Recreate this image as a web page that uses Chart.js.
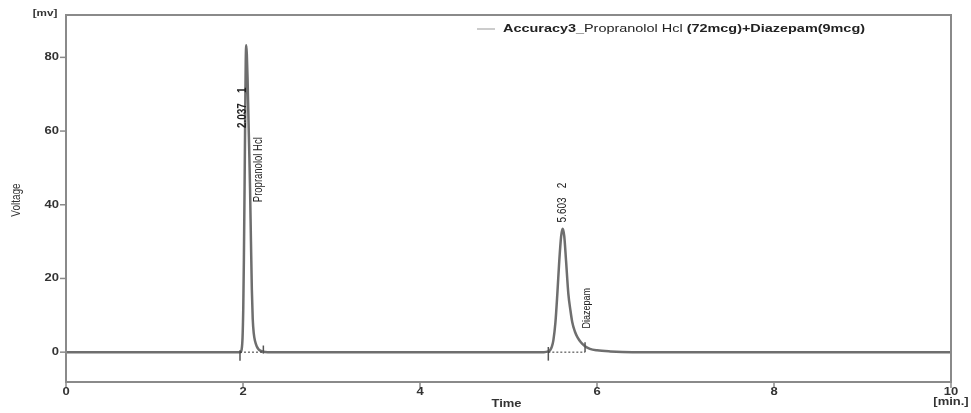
<!DOCTYPE html>
<html>
<head>
<meta charset="utf-8">
<script src="https://cdn.jsdelivr.net/npm/chart.js@4.4.1/dist/chart.umd.min.js"></script>
<style>
html,body{margin:0;padding:0;background:#fff;}
#wrap{width:971px;height:413px;position:relative;}
</style>
</head>
<body>
<div id="wrap"><canvas id="c"></canvas></div>
<script>
// ---- data ----
const timeMin = [0, 1.90, 1.970, 1.985, 1.995, 2.003, 2.010, 2.018, 2.025, 2.031, 2.037, 2.043, 2.052, 2.062, 2.072, 2.080, 2.090, 2.100, 2.110, 2.122, 2.136, 2.155, 2.175, 2.195, 2.23, 2.28,
  5.40, 5.45, 5.47, 5.49, 5.507, 5.53, 5.552, 5.574, 5.595, 5.612, 5.63, 5.650, 5.676, 5.70, 5.72, 5.75, 5.78, 5.82, 5.864, 5.92, 6.0, 6.15, 6.4, 10];
const voltageMv = [0, 0, 0, 0.8, 4, 12, 25, 45, 65, 79, 83.3, 81, 74, 63, 53, 44, 30, 17, 9, 5, 3, 1.6, 0.8, 0.4, 0.1, 0,
  0, 0.2, 0.5, 1.5, 3.2, 8, 15.9, 24.9, 31.5, 33.5, 31.5, 24.9, 15.9, 11.3, 8.2, 5.6, 4.0, 2.6, 1.6, 0.9, 0.5, 0.2, 0, 0];
// peak start / end markers [time, low, high]
const peakMarks = [[1.966, -2.3, 0.5], [2.23, -0.4, 1.8], [5.45, -2.3, 1.4], [5.865, 0, 2.7]];
// dotted integration baselines [start, end]
const baselines = [[1.966, 2.23], [5.45, 5.865]];
const xTicks = [0, 2, 4, 6, 8, 10];
const yTicks = [0, 20, 40, 60, 80];
const peakTexts = ['2.037', '1', 'Propranolol Hcl', '5.603', '2', 'Diazepam'];
const legendParts = ['Accuracy3_', 'Propranolol Hcl', ' (72mcg)+Diazepam(9mcg)'];

// ---- label placement (time, voltage anchor, px offset, font) ----
const peakTextLayout = [
  {t: 2.037, v: 60.8, dx: -4, font: 'bold 10px "Liberation Sans"'},
  {t: 2.037, v: 70.3, dx: -4, font: 'bold 10px "Liberation Sans"'},
  {t: 2.175, v: 40.7, dx: 0, font: '9.5px "Liberation Sans"'},
  {t: 5.61, v: 35.2, dx: 0, font: '10px "Liberation Sans"'},
  {t: 5.61, v: 44.5, dx: 0, font: '10px "Liberation Sans"'},
  {t: 5.887, v: 6.4, dx: 0, font: '9px "Liberation Sans"'}
];

const SX = 1.3;
function txt(ctx, s, x, y, font, align, base, rot, color) {
  ctx.save();
  ctx.translate(x, y);
  ctx.scale(SX, 1);
  if (rot) ctx.rotate(-Math.PI / 2);
  ctx.font = font; ctx.textAlign = align; ctx.textBaseline = base;
  ctx.fillStyle = color || '#333';
  ctx.fillText(s, 0, 0);
  ctx.restore();
}

const mainData = timeMin.map((t, i) => ({x: t, y: voltageMv[i]}));
const datasets = [{
  data: mainData, borderColor: '#6e6e6e', borderWidth: 2.5, pointRadius: 0,
  cubicInterpolationMode: 'monotone', fill: false, order: 2
}];
baselines.forEach(b => datasets.push({
  data: [{x: b[0], y: 0}, {x: b[1], y: 0}], borderColor: '#333', borderWidth: 1,
  borderDash: [2, 2], pointRadius: 0, order: 1
}));
peakMarks.forEach(m => datasets.push({
  data: [{x: m[0], y: m[1]}, {x: m[0], y: m[2]}], borderColor: '#555', borderWidth: 1.5,
  pointRadius: 0, order: 1
}));

const decor = {
  id: 'decor',
  afterDraw(chart) {
    const ctx = chart.ctx, a = chart.chartArea, xs = chart.scales.x, ys = chart.scales.y;
    ctx.save();
    // frame
    ctx.strokeStyle = '#8a8a8a'; ctx.lineWidth = 2;
    ctx.strokeRect(a.left, a.top, a.right - a.left, a.bottom - a.top);
    // y ticks
    ctx.lineWidth = 1.5;
    yTicks.forEach(v => {
      const y = ys.getPixelForValue(v);
      ctx.beginPath(); ctx.moveTo(a.left - 6, y); ctx.lineTo(a.left, y); ctx.stroke();
      txt(ctx, String(v), a.left - 7, y, 'bold 10px "Liberation Sans"', 'right', 'middle');
    });
    xTicks.forEach(v => {
      const x = xs.getPixelForValue(v);
      ctx.beginPath(); ctx.moveTo(x, a.bottom); ctx.lineTo(x, a.bottom + 6); ctx.stroke();
      txt(ctx, String(v), x, a.bottom + 10, 'bold 10px "Liberation Sans"', 'center', 'middle');
    });
    txt(ctx, '[min.]', xs.getPixelForValue(10), 402, 'bold 10px "Liberation Sans"', 'center', 'middle');
    txt(ctx, 'Time', xs.getPixelForValue(5) - 2, 404, 'bold 10px "Liberation Sans"', 'center', 'middle');
    txt(ctx, '[mv]', 45, 14, 'bold 9px "Liberation Sans"', 'center', 'middle');
    txt(ctx, 'Voltage', 16, 200, '10px "Liberation Sans"', 'center', 'middle', true);
    // peak labels
    peakTexts.forEach((s, i) => {
      const L = peakTextLayout[i];
      txt(ctx, s, xs.getPixelForValue(L.t) + L.dx, ys.getPixelForValue(L.v), L.font, 'left', 'middle', true, '#222');
    });
    // legend
    ctx.strokeStyle = '#999'; ctx.lineWidth = 1;
    ctx.beginPath(); ctx.moveTo(477, 29); ctx.lineTo(495, 29); ctx.stroke();
    const fonts = ['bold 11px "Liberation Sans"', '11px "Liberation Sans"', 'bold 11px "Liberation Sans"'];
    let widths = legendParts.map((p, i) => { ctx.font = fonts[i]; return ctx.measureText(p).width; });
    const tot = widths.reduce((s, w) => s + w, 0);
    const k = 362 / tot;
    let x = 503;
    legendParts.forEach((p, i) => {
      ctx.save(); ctx.translate(x, 29); ctx.scale(k, 1);
      ctx.font = fonts[i]; ctx.fillStyle = '#222'; ctx.textAlign = 'left'; ctx.textBaseline = 'middle';
      ctx.fillText(p, 0, 0); ctx.restore();
      x += widths[i] * k;
    });
    ctx.restore();
  }
};

new Chart(document.getElementById('c'), {
  type: 'line',
  data: {datasets},
  options: {
    responsive: true, maintainAspectRatio: false, animation: false,
    layout: {padding: {top: 15, right: 20, left: 0, bottom: 0}},
    plugins: {legend: {display: false}, tooltip: {enabled: false}},
    scales: {
      x: {type: 'linear', min: 0, max: 10,
        grid: {display: false}, border: {display: false}, ticks: {display: false},
        afterBuildTicks: s => { s.ticks = xTicks.map(v => ({value: v})); },
        afterFit: s => { s.height = 31; }},
      y: {type: 'linear', min: -8.1, max: 91.5,
        grid: {display: false}, border: {display: false}, ticks: {display: false},
        afterBuildTicks: s => { s.ticks = yTicks.map(v => ({value: v})); },
        afterFit: s => { s.width = 66; }}
    }
  },
  plugins: [decor]
});
</script>
</body>
</html>
